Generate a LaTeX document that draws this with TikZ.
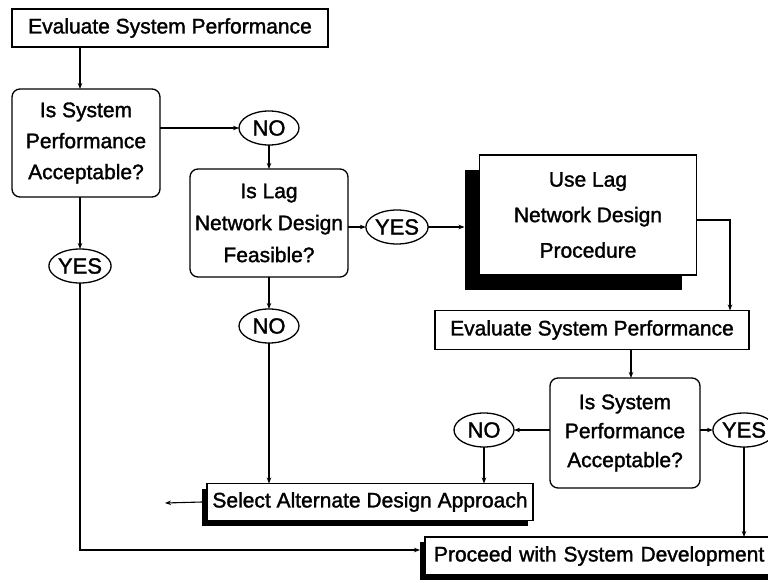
\documentclass[tikz,border=0pt]{standalone}
\usepackage{fontspec}
\setmainfont[FakeBold=1.5]{Liberation Sans}
\usetikzlibrary{shapes.geometric,arrows.meta,shadows}
\begin{document}
\begin{tikzpicture}[x=1pt,y=-1pt,
  every node/.style={inner sep=0pt, outer sep=0pt},
  box/.style={draw, line width=1.3pt, fill=white, font=\fontsize{21}{25}\selectfont},
  dec/.style={box, rounded corners=8pt, align=center},
  oval/.style={draw, ellipse, line width=1.3pt, fill=white, minimum width=60pt, minimum height=34pt, font=\fontsize{22}{26}\selectfont},
  bigshadow/.style={drop shadow={shadow xshift=-15pt, shadow yshift=-15pt, fill=black, opacity=1}},
  smallshadow/.style={drop shadow={shadow xshift=-5pt, shadow yshift=-5pt, fill=black, opacity=1}},
  conn/.style={line width=1.1pt, -{Stealth[length=6pt,width=4.5pt]}}
]
\useasboundingbox[fill=white] (0,0) rectangle (768,583);

\node[box, minimum width=316pt, minimum height=38pt] (ev1) at (170,28) {Evaluate System Performance};
\node[dec, minimum width=148pt, minimum height=108pt, font=\fontsize{21}{31}\selectfont] (d1) at (86,143) {Is System\\Performance\\Acceptable?};
\node[oval] (no1) at (269,128) {NO};
\node[dec, minimum width=158pt, minimum height=108pt, font=\fontsize{21}{32}\selectfont] (d2) at (269,223) {Is Lag\\Network Design\\Feasible?};
\node[oval] (yes2) at (397,227) {YES};
\node[box, bigshadow, minimum width=217pt, minimum height=120pt, align=center, font=\fontsize{21}{35.5}\selectfont] (ul) at (588,215) {Use Lag\\Network Design\\Procedure};
\node[box, minimum width=314pt, minimum height=39pt] (ev2) at (592,330) {Evaluate System Performance};
\node[dec, minimum width=150pt, minimum height=110pt, font=\fontsize{21}{29}\selectfont] (d3) at (625,433) {Is System\\Performance\\Acceptable?};
\node[oval] (no3) at (484,430) {NO};
\node[oval] (yes3) at (744,430) {YES};
\node[oval] (no2) at (269,326) {NO};
\node[oval] (yes1) at (80,266) {YES};
\node[box, smallshadow, minimum width=326pt, minimum height=37pt] (sel) at (370,502) {Select Alternate Design Approach};
\node[box, smallshadow, minimum width=370pt, minimum height=38pt, text width=352pt, align=left] (proc) at (610,556) {Proceed with System Development};
\coordinate (selout) at (165,503);

\draw[conn] ([xshift=-6pt]d1.north |- ev1.south) -- ([xshift=-6pt]d1.north);
\draw[conn] (d1.east |- no1.west) -- (no1.west);
\draw[conn] (no1.south) -- (d2.north);
\draw[conn] (d2.east |- yes2.west) -- (yes2.west);
\draw[conn] (yes2.east) -- ([xshift=-15pt]ul.west |- yes2.east);
\draw[conn] ([yshift=-5pt]ul.east) -| ([xshift=138pt]ev2.north);
\draw[conn] ([xshift=6pt]d3.north |- ev2.south) -- ([xshift=6pt]d3.north);
\draw[conn] (d3.west |- no3.east) -- (no3.east);
\draw[conn] (d3.east |- yes3.west) -- (yes3.west);
\draw[conn] (no3.south) -- (no3.south |- sel.north);
\draw[conn] (yes1.north |- d1.south) -- (yes1.north);
\draw[conn] (d2.south) -- (no2.north);
\draw[conn] (no2.south) -- (no2.south |- sel.north);
\draw[conn] ([xshift=-5pt]sel.west) -- (selout);
\draw[conn] (yes1.south) |- ([xshift=-5pt,yshift=6pt]proc.west);
\draw[conn] (yes3.south) -- (yes3.south |- proc.north);
\end{tikzpicture}
\end{document}
